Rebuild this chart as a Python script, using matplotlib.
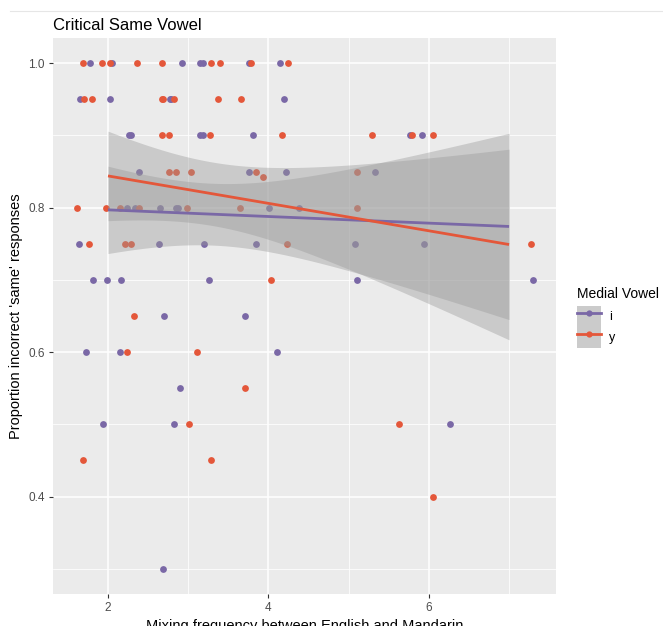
import numpy as np
import matplotlib
matplotlib.use("Agg")
import matplotlib.pyplot as plt
from matplotlib.lines import Line2D
from matplotlib.patches import Patch
from matplotlib.legend_handler import HandlerTuple

plt.rcParams['font.family'] = ['Liberation Sans', 'DejaVu Sans']

# ---- data: jittered points (x = mixing frequency, y = proportion) ----
i_x = [1.771, 2.050, 2.922, 3.141, 3.183, 3.763, 4.150,
       1.655, 2.020, 2.767, 2.788, 4.199,
       2.257, 2.286, 3.141, 3.183, 3.806, 5.765, 5.918,
       2.386, 3.763, 4.220, 5.325,
       2.237, 2.340, 2.643, 2.851, 2.867, 4.009, 4.386,
       1.643, 2.630, 3.199, 3.847, 5.083, 5.943,
       1.808, 1.988, 2.166, 3.262, 5.108, 7.300,
       2.697, 3.706,
       1.721, 2.149, 4.108,
       2.897,
       1.941, 2.829, 6.259,
       2.685]
i_y = [1.0] * 7 + [0.95] * 5 + [0.9] * 7 + [0.85] * 4 + [0.8] * 7 + \
      [0.75] * 6 + [0.7] * 6 + [0.65] * 2 + [0.6] * 3 + [0.55] + [0.5] * 3 + [0.3]

y_x = [1.689, 1.929, 2.029, 2.356, 2.672, 3.283, 3.399, 3.785, 4.245,
       1.705, 1.796, 2.672, 2.692, 2.817, 3.370, 3.664,
       2.672, 2.755, 3.274, 4.171, 5.288, 5.786, 6.047,
       2.760, 2.847, 3.034, 3.843, 5.100,
       3.934,
       1.614, 1.979, 2.153, 2.390, 2.991, 3.647, 5.100,
       1.767, 2.207, 2.281, 4.233, 7.268,
       4.030,
       2.319,
       2.232, 3.108,
       3.706,
       3.012, 5.624,
       1.689, 3.286,
       6.055]
y_y = [1.0] * 9 + [0.95] * 7 + [0.9] * 7 + [0.85] * 5 + [0.842] + [0.8] * 7 + \
      [0.75] * 5 + [0.7] + [0.65] + [0.6] * 2 + [0.55] + [0.5] * 2 + [0.45] * 2 + [0.4]

# ---- linear fits (values at x = 2 and x = 7) and CI half-widths ----
fit_x_range = [2.0, 7.0]
fit_i = [0.797, 0.774]
fit_y = [0.844, 0.749]
ci_half_i = [0.0605, 0.129]
ci_half_y = [0.062, 0.132]
x_center = 3.3

col_i = '#7a68a6'
col_y = '#e4573a'

fig = plt.figure(figsize=(6.63, 6.26), dpi=100)
ax = fig.add_axes([0.080, 0.0511, 0.7586, 0.8882])
ax.set_facecolor('#ebebeb')
for s in ax.spines.values():
    s.set_visible(False)

ax.set_xlim(1.315, 7.585)
ax.set_ylim(0.265, 1.035)
ax.set_xticks([2, 4, 6])
ax.set_xticks([3, 5, 7], minor=True)
ax.set_yticks([0.4, 0.6, 0.8, 1.0])
ax.set_yticklabels(['0.4', '0.6', '0.8', '1.0'])
ax.set_yticks([0.3, 0.5, 0.7, 0.9], minor=True)
ax.grid(which='major', color='white', lw=1.1)
ax.grid(which='minor', color='white', lw=0.55)
ax.set_axisbelow(True)
ax.tick_params(which='major', length=3, width=0.8, color='#333333',
               labelsize=8.5, labelcolor='#4d4d4d', pad=3)
ax.tick_params(which='minor', length=0)

ax.scatter(i_x, i_y, s=24, color=col_i, zorder=2, linewidths=0)
ax.scatter(y_x, y_y, s=24, color=col_y, zorder=2, linewidths=0)

xs = np.linspace(fit_x_range[0], fit_x_range[1], 80)

def band(fit, half):
    slope = (fit[1] - fit[0]) / (fit_x_range[1] - fit_x_range[0])
    yhat = fit[0] + slope * (xs - fit_x_range[0])
    d0 = (fit_x_range[0] - x_center) ** 2
    d1 = (fit_x_range[1] - x_center) ** 2
    b = (half[1] ** 2 - half[0] ** 2) / (d1 - d0)
    a = half[0] ** 2 - b * d0
    h = np.sqrt(a + b * (xs - x_center) ** 2)
    return yhat, h

yh_i, h_i = band(fit_i, ci_half_i)
yh_y, h_y = band(fit_y, ci_half_y)
ax.fill_between(xs, yh_i - h_i, yh_i + h_i, color='#999999', alpha=0.4, lw=0, zorder=3)
ax.fill_between(xs, yh_y - h_y, yh_y + h_y, color='#999999', alpha=0.4, lw=0, zorder=3)
ax.plot(xs, yh_i, color=col_i, lw=2.0, zorder=4, solid_capstyle='butt')
ax.plot(xs, yh_y, color=col_y, lw=2.0, zorder=4, solid_capstyle='butt')

ax.set_xlabel('Mixing frequency between English and Mandarin', fontsize=10.5, labelpad=3)
ax.set_ylabel("Proportion incorrect 'same' responses", fontsize=10.5, labelpad=4)
ax.set_title('Critical Same Vowel', fontsize=12, loc='left', pad=6)

bg = Patch(facecolor='#cbcbcb', edgecolor='none')
h1 = Line2D([], [], color=col_i, lw=2.0, marker='o', markersize=4.5, markeredgewidth=0)
h2 = Line2D([], [], color=col_y, lw=2.0, marker='o', markersize=4.5, markeredgewidth=0)
leg = fig.legend([(bg, h1), (bg, h2)], ['i', 'y'], title='Medial Vowel',
                 handler_map={tuple: HandlerTuple(ndivide=1, pad=0)},
                 loc='upper left', bbox_to_anchor=(0.871, 0.5415), frameon=False,
                 fontsize=9, title_fontsize=10, handlelength=1.9, handleheight=2.2,
                 handletextpad=0.6, labelspacing=0.0, borderaxespad=0, borderpad=0)
leg._legend_box.align = 'left'
leg._legend_box.sep = 3.6

fig.add_artist(Line2D([0.015, 1.0], [0.983, 0.983], color='#e6e6e6', lw=0.8))

fig.savefig('out.png', dpi=100)
